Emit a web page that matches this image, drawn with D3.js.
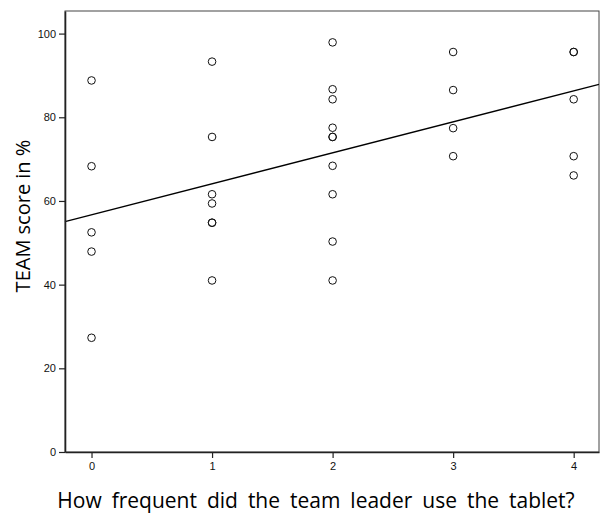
<!DOCTYPE html>
<html>
<head>
<meta charset="utf-8">
<script src="https://cdn.jsdelivr.net/npm/d3@7"></script>
<style>
  body { margin: 0; background: #fff; }
  svg { display: block; }
</style>
</head>
<body>
<svg class="chart" width="600" height="514"></svg>
<script>
// usage frequency (x) and TEAM score in % (y), one entry per team
const freq = [0, 0, 0, 0, 0,
  1, 1, 1, 1, 1, 1, 1,
  2, 2, 2, 2, 2, 2, 2, 2, 2, 2,
  3, 3, 3, 3,
  4, 4, 4, 4, 4]
const score = [88.8, 68.3, 52.5, 47.9, 27.3,
  93.3, 75.3, 61.6, 59.4, 54.8, 54.8, 41.0,
  97.9, 86.7, 84.3, 77.5, 75.3, 75.3, 68.4, 61.6, 50.3, 41.0,
  95.6, 86.5, 77.4, 70.7,
  95.6, 95.6, 84.3, 70.7, 66.1]

const xTicks = [0, 1, 2, 3, 4]
const yTicks = [0, 20, 40, 60, 80, 100]

// fit line
const fitIntercept = [56.7]
const fitSlope = [7.4]

const margin = { left: 65, top: 11, right: 1, bottom: 62 }
const width = 600
const height = 514

const xSc = d3.scaleLinear().domain([-0.22, 4.21]).range([margin.left, width - margin.right])
const ySc = d3.scaleLinear().domain([0, 105.4]).range([height - margin.bottom, margin.top])

const chart = d3.select('.chart')

// frame
chart
  .append('rect')
  .attr('x', xSc.range()[0])
  .attr('y', ySc.range()[1])
  .attr('width', xSc.range()[1] - xSc.range()[0])
  .attr('height', ySc.range()[0] - ySc.range()[1])
  .attr('fill', 'none')
  .attr('stroke', '#444')
  .attr('stroke-width', 1)

// fit line
const xd = xSc.domain()
chart
  .append('path')
  .attr('d', d3.line()(xd.map(x => [xSc(x), ySc(fitIntercept[0] + fitSlope[0] * x)])))
  .attr('stroke', '#000')
  .attr('stroke-width', 1.3)
  .attr('fill', 'none')

// points
chart
  .selectAll('.pt')
  .data(freq.map((f, i) => [f, score[i]]))
  .enter()
  .append('circle')
  .attr('class', 'pt')
  .attr('cx', d => xSc(d[0]))
  .attr('cy', d => ySc(d[1]))
  .attr('r', 3.8)
  .attr('fill', 'none')
  .attr('stroke', '#111')
  .attr('stroke-width', 1)

// axes
const yAxis = chart
  .append('g')
  .attr('transform', `translate(${margin.left},0)`)
  .call(d3.axisLeft(ySc).tickValues(yTicks).tickFormat(d3.format('d')).tickSize(6).tickSizeOuter(0).tickPadding(3))
const xAxis = chart
  .append('g')
  .attr('transform', `translate(0,${height - margin.bottom})`)
  .call(d3.axisBottom(xSc).tickValues(xTicks).tickFormat(d3.format('d')).tickSize(6).tickSizeOuter(0).tickPadding(4))

for (const ax of [yAxis, xAxis]) {
  ax.select('.domain').attr('stroke', '#222').attr('stroke-width', 1.6)
  ax.selectAll('.tick line').attr('stroke', '#222').attr('stroke-width', 1.2)
  ax.selectAll('.tick text')
    .attr('fill', '#111')
    .style('font-family', 'Liberation Sans, Arial, sans-serif')
    .style('font-size', '11px')
}

// titles
chart
  .append('text')
  .attr('transform', `translate(30,216) rotate(-90)`)
  .attr('text-anchor', 'middle')
  .style('font-family', 'Open Sans, sans-serif')
  .style('font-size', '20px')
  .attr('fill', '#000')
  .text('TEAM score in %')

chart
  .append('text')
  .attr('x', 316)
  .attr('y', 508)
  .attr('text-anchor', 'middle')
  .style('font-family', 'Open Sans, sans-serif')
  .style('font-size', '21px')
  .style('word-spacing', '4.5px')
  .attr('fill', '#000')
  .text('How frequent did the team leader use the tablet?')
</script>
</body>
</html>
